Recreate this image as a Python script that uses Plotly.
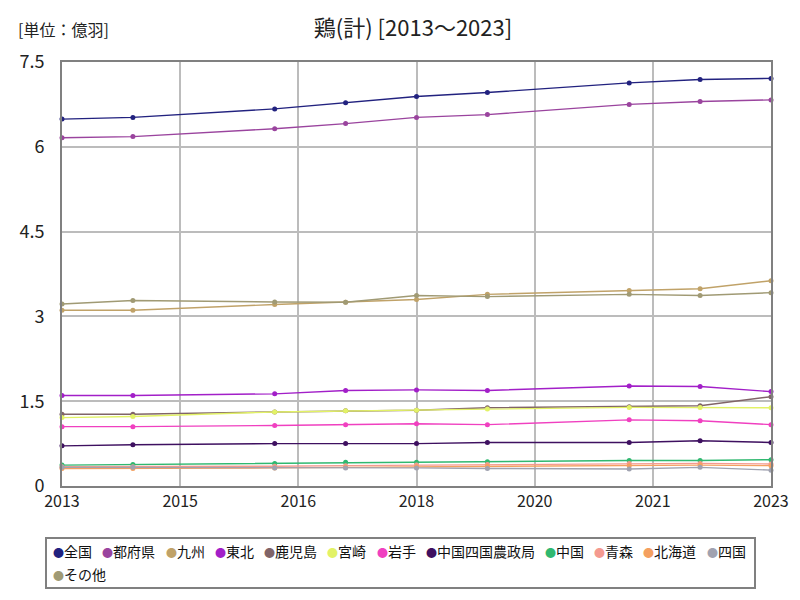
import numpy as np
import plotly.graph_objects as go

years = [2013, 2014, 2016, 2017, 2018, 2019, 2021, 2022, 2023]

series_names = ["全国", "都府県", "九州", "東北", "鹿児島", "宮崎", "岩手",
                "中国四国農政局", "中国", "青森", "北海道", "四国", "その他"]

zenkoku = [6.49, 6.52, 6.67, 6.78, 6.89, 6.96, 7.13, 7.19, 7.21]
tofuken = [6.16, 6.18, 6.32, 6.41, 6.52, 6.57, 6.75, 6.80, 6.83]
kyushu = [3.11, 3.11, 3.21, 3.25, 3.30, 3.39, 3.46, 3.49, 3.63]
tohoku = [1.60, 1.60, 1.63, 1.69, 1.70, 1.69, 1.77, 1.76, 1.67]
kagoshima = [1.27, 1.27, 1.31, 1.33, 1.34, 1.385, 1.40, 1.42, 1.58]
miyazaki = [1.21, 1.23, 1.31, 1.33, 1.34, 1.36, 1.39, 1.39, 1.385]
iwate = [1.05, 1.05, 1.07, 1.085, 1.10, 1.085, 1.17, 1.155, 1.085]
chushikoku_noseikyoku = [0.71, 0.73, 0.75, 0.75, 0.75, 0.77, 0.77, 0.80, 0.77]
chugoku = [0.37, 0.38, 0.40, 0.42, 0.42, 0.43, 0.45, 0.45, 0.465]
aomori = [0.34, 0.34, 0.35, 0.36, 0.37, 0.38, 0.40, 0.40, 0.39]
hokkaido = [0.31, 0.31, 0.32, 0.33, 0.34, 0.35, 0.36, 0.37, 0.36]
shikoku = [0.33, 0.33, 0.32, 0.32, 0.32, 0.31, 0.30, 0.33, 0.28]
sonota = [3.22, 3.28, 3.255, 3.25, 3.37, 3.35, 3.39, 3.37, 3.42]

x_tick_labels = ["2013", "2015", "2016", "2018", "2020", "2021", "2023"]
y_tick_values = [0, 1.5, 3, 4.5, 6, 7.5]
y_tick_labels = ["0", "1.5", "3", "4.5", "6", "7.5"]

all_values = [zenkoku, tofuken, kyushu, tohoku, kagoshima, miyazaki, iwate,
              chushikoku_noseikyoku, chugoku, aomori, hokkaido, shikoku, sonota]
colors = ["#22227f", "#9a449e", "#c0a268", "#a21fc8", "#806468", "#e2f266",
          "#f040c0", "#3e1060", "#30b870", "#f49a90", "#f4a060", "#a0a2b0", "#a09a74"]

FONT = "Noto Sans CJK JP"

# The page body adds an 8px offset; size the figure so the plot area lands
# at page pixels x 62..771, y 62..486 like the reference.
OFF = 8
W, H = 800 - OFF, 600 - OFF
ML, MR, MT, MB = 62 - OFF, 29, 62 - OFF, 114
PW, PH = W - ML - MR, H - MT - MB


def px2x(px):
    return (px - OFF - ML) / PW


def py2y(py):
    return (H - MB - (py - OFF)) / PH


fig = go.Figure()
for name, vals, c in zip(series_names, all_values, colors):
    fig.add_trace(go.Scatter(x=years, y=vals, mode="lines+markers", name=name,
                             line=dict(color=c, width=1.4),
                             marker=dict(color=c, size=5),
                             showlegend=False, cliponaxis=False))

annotations = [dict(text="[単位：億羽]", xref="paper", yref="paper", x=px2x(16), y=py2y(29),
                    xanchor="left", yanchor="middle", showarrow=False,
                    font=dict(size=16, family=FONT, color="#222222"))]
cur = 51.0
row_y = [551, 574]
row = 0
for i, (name, c) in enumerate(zip(series_names, colors)):
    if i == 12:
        row = 1
        cur = 51.0
    annotations.append(dict(
        text=f"<span style='color:{c};font-size:11px'>●</span>{name}",
        xref="paper", yref="paper", x=px2x(cur), y=py2y(row_y[row]),
        xanchor="left", yanchor="middle", showarrow=False,
        font=dict(size=14, family=FONT, color="#111111")))
    cur += 21.5 + 13.9 * len(name)

fig.update_layout(
    width=W, height=H,
    margin=dict(l=ML, r=MR, t=MT, b=MB, autoexpand=False),
    paper_bgcolor="white", plot_bgcolor="white",
    font=dict(family=FONT, color="#222222"),
    showlegend=False,
    title=dict(text="鶏(計) [2013～2023]", x=(413 - OFF) / W, xanchor="center",
               y=1 - (28 - OFF) / H, yanchor="middle",
               font=dict(size=22, family=FONT, color="#222222")),
    annotations=annotations,
    shapes=[dict(type="rect", xref="paper", yref="paper",
                 x0=px2x(46), x1=px2x(755), y0=py2y(538), y1=py2y(588),
                 line=dict(color="#808080", width=2), fillcolor="rgba(0,0,0,0)")],
)
fig.update_xaxes(range=[2013, 2023], tickmode="array",
                 tickvals=list(np.linspace(2013, 2023, 7)), ticktext=x_tick_labels,
                 showgrid=True, gridcolor="#bcbcbc", gridwidth=2,
                 showline=True, linecolor="#808080", linewidth=2, mirror=True,
                 ticks="", tickfont=dict(size=16, family=FONT), zeroline=False,
                 automargin=False)
fig.update_yaxes(range=[0, 7.5], tickmode="array", tickvals=y_tick_values, ticktext=y_tick_labels,
                 showgrid=True, gridcolor="#bcbcbc", gridwidth=2,
                 showline=True, linecolor="#808080", linewidth=2, mirror=True,
                 ticks="", tickfont=dict(size=18, family=FONT), zeroline=False,
                 ticklabelstandoff=12, automargin=False)

fig.write_html("out.html")
